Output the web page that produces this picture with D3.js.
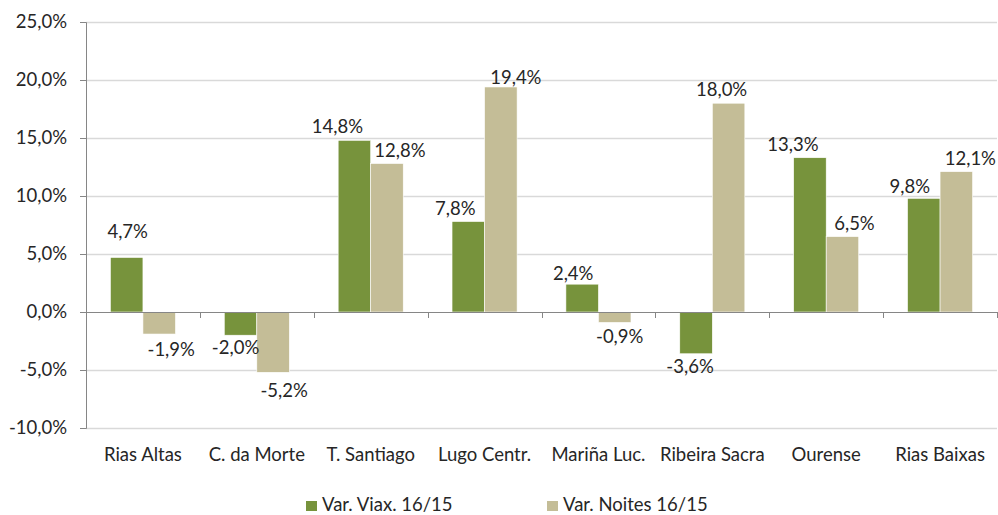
<!DOCTYPE html>
<html>
<head>
<meta charset="utf-8">
<script src="https://cdn.jsdelivr.net/npm/d3@7"></script>
<style>
  body { margin: 0; background: #fff; }
  text { font-family: Lato, "Open Sans", sans-serif; fill: #262626; }
</style>
</head>
<body>
<script>
// data
var categories = ["Rias Altas", "C. da Morte", "T. Santiago", "Lugo Centr.", "Mariña Luc.", "Ribeira Sacra", "Ourense", "Rias Baixas"];
var viaxValues = [4.7, -2.0, 14.8, 7.8, 2.4, -3.6, 13.3, 9.8];
var noitesValues = [-1.9, -5.2, 12.8, 19.4, -0.9, 18.0, 6.5, 12.1];
var seriesNames = ["Var. Viax. 16/15", "Var. Noites 16/15"];
var yTicks = [-10, -5, 0, 5, 10, 15, 20, 25];

// label nudges (the original has hand-moved labels)
var viaxLabelDx = [1, -5, -17, -13, -9, -6, -17, -14];
var viaxLabelDy = [-12, 0, 0, 0, 3, 0, 0, 2];
var noitesLabelDx = [12, 11, 13, 15, 5, -7, 12, 14];
var noitesLabelDy = [3, 6, 0, 4, 2, 0, 0, 0];

var colors = ["#77933C", "#C4BD97"];
var fontSize = "18.5px";

var W = 998, H = 515;
var plotLeft = 86, plotRight = 997, plotTop = 22, plotBottom = 428;

var svg = d3.select("body").append("svg")
    .attr("width", W)
    .attr("height", H);

var x0 = d3.scaleBand().domain(categories).range([plotLeft, plotRight]).padding(0);
var x1 = d3.scaleBand().domain(seriesNames).range([0, x0.bandwidth()])
    .paddingInner(0).paddingOuter(0.75);
var y = d3.scaleLinear().domain([-10, 25]).range([plotBottom, plotTop]);

var fmt = function(v) { return v.toFixed(1).replace(".", ",") + "%"; };

// gridlines
svg.append("g").selectAll("line")
    .data(yTicks.filter(function(d) { return d !== 0; }))
    .enter().append("line")
    .attr("x1", plotLeft).attr("x2", plotRight)
    .attr("y1", function(d) { return Math.round(y(d)) + 0.5; })
    .attr("y2", function(d) { return Math.round(y(d)) + 0.5; })
    .attr("stroke", "#D9D9D9")
    .attr("stroke-width", 1.3);

// y axis
var yAxis = svg.append("g")
    .attr("transform", "translate(" + plotLeft + ",0)")
    .call(d3.axisLeft(y).tickValues(yTicks).tickSize(6).tickPadding(13).tickFormat(fmt));
yAxis.select(".domain").attr("stroke", "#868686");
yAxis.selectAll(".tick line").attr("stroke", "#868686");
yAxis.selectAll("text")
    .attr("font-family", null)
    .style("font-size", fontSize)
    .attr("fill", "#262626");

// bars
var rows = categories.map(function(c, i) {
    return { cat: c, i: i, vals: [viaxValues[i], noitesValues[i]] };
});

var groups = svg.append("g").selectAll("g")
    .data(rows)
    .enter().append("g")
    .attr("transform", function(d) { return "translate(" + x0(d.cat) + ",0)"; });

groups.selectAll("rect")
    .data(function(d) { return d.vals.map(function(v, k) { return { v: v, k: k, i: d.i }; }); })
    .enter().append("rect")
    .attr("x", function(d) { return x1(seriesNames[d.k]); })
    .attr("width", x1.bandwidth())
    .attr("y", function(d) { return y(Math.max(0, d.v)); })
    .attr("height", function(d) { return Math.abs(y(d.v) - y(0)); })
    .attr("fill", function(d) { return colors[d.k]; })
    .attr("stroke", "#fff")
    .attr("stroke-width", 0.6);

// x axis line at 0 with ticks at the category boundaries
svg.append("line")
    .attr("x1", plotLeft).attr("x2", plotRight)
    .attr("y1", Math.round(y(0)) + 0.5).attr("y2", Math.round(y(0)) + 0.5)
    .attr("stroke", "#868686");

var bounds = categories.map(function(c) { return x0(c); }).concat([plotRight]);
svg.append("g").selectAll("line")
    .data(bounds)
    .enter().append("line")
    .attr("x1", function(d) { return Math.round(d) + 0.5; })
    .attr("x2", function(d) { return Math.round(d) + 0.5; })
    .attr("y1", y(0)).attr("y2", y(0) + 6)
    .attr("stroke", "#868686");

// category labels
svg.append("g").selectAll("text")
    .data(categories)
    .enter().append("text")
    .attr("x", function(d) { return x0(d) + x0.bandwidth() / 2; })
    .attr("y", 461)
    .attr("text-anchor", "middle")
    .style("font-size", fontSize)
    .text(function(d) { return d; });

// value labels
groups.selectAll("text.val")
    .data(function(d) { return d.vals.map(function(v, k) { return { v: v, k: k, i: d.i }; }); })
    .enter().append("text")
    .attr("class", "val")
    .attr("text-anchor", "middle")
    .style("font-size", fontSize)
    .attr("x", function(d) {
        var dx = d.k === 0 ? viaxLabelDx[d.i] : noitesLabelDx[d.i];
        return x1(seriesNames[d.k]) + x1.bandwidth() / 2 + dx;
    })
    .attr("y", function(d) {
        var dy = d.k === 0 ? viaxLabelDy[d.i] : noitesLabelDy[d.i];
        return d.v >= 0 ? y(d.v) - 7 + dy : y(d.v) + 19 + dy;
    })
    .text(function(d) { return fmt(d.v); });

// legend
var legendX = [306, 547];
var legend = svg.append("g").selectAll("g")
    .data(seriesNames)
    .enter().append("g")
    .attr("transform", function(d, i) { return "translate(" + legendX[i] + ",501)"; });

legend.append("rect")
    .attr("width", 11).attr("height", 10)
    .attr("fill", function(d, i) { return colors[i]; });

legend.append("text")
    .attr("x", 16)
    .attr("y", 10)
    .style("font-size", fontSize)
    .text(function(d) { return d; });
</script>
</body>
</html>
